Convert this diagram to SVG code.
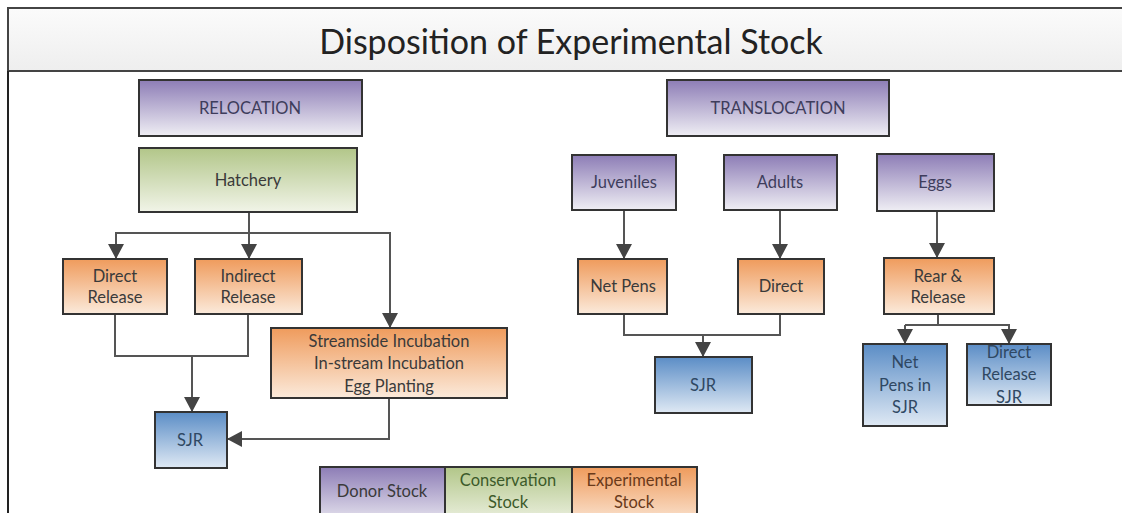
<svg xmlns="http://www.w3.org/2000/svg" width="1122" height="513" viewBox="0 0 1122 513">
<defs>
<linearGradient id="gP" x1="0" y1="0" x2="0" y2="1"><stop offset="0" stop-color="#8d7db6"/><stop offset="1" stop-color="#efeef4"/></linearGradient>
<linearGradient id="gG" x1="0" y1="0" x2="0" y2="1"><stop offset="0" stop-color="#b2c689"/><stop offset="1" stop-color="#f1f4e8"/></linearGradient>
<linearGradient id="gO" x1="0" y1="0" x2="0" y2="1"><stop offset="0" stop-color="#ef9b5c"/><stop offset="1" stop-color="#fbeadb"/></linearGradient>
<linearGradient id="gB" x1="0" y1="0" x2="0" y2="1"><stop offset="0" stop-color="#5b8dc6"/><stop offset="1" stop-color="#dfe9f4"/></linearGradient>
<linearGradient id="gT" x1="0" y1="0" x2="0" y2="1"><stop offset="0" stop-color="#fbfbfb"/><stop offset="1" stop-color="#eeeeee"/></linearGradient>
<marker id="arr" markerUnits="userSpaceOnUse" markerWidth="16" markerHeight="16" refX="15" refY="8" orient="auto" viewBox="0 0 16 16"><path d="M0,0 L15,8 L0,16 z" fill="#444"/></marker>
<style>
.box{stroke:#333;stroke-width:2}
.p{fill:url(#gP)} .g{fill:url(#gG)} .o{fill:url(#gO)} .b{fill:url(#gB)}
text{font-family:Lato,"Open Sans","Liberation Sans",sans-serif;font-size:16.5px;text-anchor:middle;dominant-baseline:central;fill:#3a3a3a}
.tp{fill:#3e3d5c} .tb{fill:#2f4863}
.c{fill:none;stroke:#555;stroke-width:2}
.a{marker-end:url(#arr)}
</style>
</defs>
<rect width="1122" height="513" fill="#ffffff"/>
<g id="title">
<rect x="8" y="8" width="1120" height="63" fill="url(#gT)" stroke="#444" stroke-width="2"/>
<line x1="8" y1="71" x2="8" y2="513" stroke="#222" stroke-width="2"/>
<text x="571" y="40" style="font-size:34px;fill:#222">Disposition of Experimental Stock</text>
</g>
<g id="connectors">
<path class="c a" d="M249,212 V259"/>
<path class="c a" d="M249,233 H116 V259"/>
<path class="c a" d="M249,233 H390 V328"/>
<path class="c" d="M115,314 V356 H248 V314"/>
<path class="c a" d="M192,356 V412"/>
<path class="c a" d="M389,398 V439 H227"/>
<path class="c a" d="M624,210 V259"/>
<path class="c a" d="M780,210 V259"/>
<path class="c" d="M624,314 V335 H780 V314"/>
<path class="c a" d="M703,335 V357"/>
<path class="c a" d="M937,211 V258"/>
<path class="c" d="M938,314 V325"/>
<path class="c a" d="M905,325 H1009 V344"/>
<path class="c a" d="M905,325 V344"/>
</g>
<g id="relocation"><rect class="box p" x="139" y="80" width="223" height="56"/><text class="tp" x="250" y="108">RELOCATION</text></g>
<g id="hatchery"><rect class="box g" x="139" y="148" width="218" height="64"/><text x="248" y="180">Hatchery</text></g>
<g id="direct-release"><rect class="box o" x="63" y="259" width="104" height="55"/><text x="115" y="276">Direct</text><text x="115" y="297">Release</text></g>
<g id="indirect-release"><rect class="box o" x="195" y="259" width="107" height="55"/><text x="248" y="276">Indirect</text><text x="248" y="297">Release</text></g>
<g id="streamside"><rect class="box o" x="271" y="328" width="236" height="70"/><text x="389" y="341">Streamside Incubation</text><text x="389" y="363">In-stream Incubation</text><text x="389" y="386">Egg Planting</text></g>
<g id="sjr-left"><rect class="box b" x="155" y="412" width="72" height="56"/><text class="tb" x="190" y="440">SJR</text></g>
<g id="translocation"><rect class="box p" x="667" y="80" width="222" height="56"/><text class="tp" x="778" y="108">TRANSLOCATION</text></g>
<g id="juveniles"><rect class="box p" x="572" y="155" width="104" height="55"/><text class="tp" x="624" y="182">Juveniles</text></g>
<g id="adults"><rect class="box p" x="724" y="155" width="113" height="55"/><text class="tp" x="780" y="182">Adults</text></g>
<g id="eggs"><rect class="box p" x="877" y="154" width="117" height="57"/><text class="tp" x="935" y="182">Eggs</text></g>
<g id="net-pens"><rect class="box o" x="578" y="259" width="89" height="55"/><text x="623" y="286">Net Pens</text></g>
<g id="direct"><rect class="box o" x="738" y="259" width="86" height="55"/><text x="781" y="286">Direct</text></g>
<g id="rear-release"><rect class="box o" x="884" y="258" width="110" height="56"/><text x="938" y="276">Rear &amp;</text><text x="938" y="297">Release</text></g>
<g id="sjr-mid"><rect class="box b" x="655" y="357" width="97" height="56"/><text class="tb" x="703" y="385">SJR</text></g>
<g id="net-pens-sjr"><rect class="box b" x="863" y="344" width="84" height="82"/><text class="tb" x="905" y="362">Net</text><text class="tb" x="905" y="385">Pens in</text><text class="tb" x="905" y="407">SJR</text></g>
<g id="direct-release-sjr"><rect class="box b" x="967" y="344" width="84" height="61"/><text class="tb" x="1009" y="352">Direct</text><text class="tb" x="1009" y="374">Release</text><text class="tb" x="1009" y="397">SJR</text></g>
<g id="legend">
<rect class="box p" x="320" y="467" width="125" height="60"/><text x="382" y="491">Donor Stock</text>
<rect class="box g" x="445" y="467" width="127" height="60"/><text x="508" y="480" style="fill:#3c5a2a">Conservation</text><text x="508" y="502" style="fill:#3c5a2a">Stock</text>
<rect class="box o" x="572" y="467" width="125" height="60"/><text x="634" y="480" style="fill:#6a3a1a">Experimental</text><text x="634" y="502" style="fill:#6a3a1a">Stock</text>
</g>
</svg>
